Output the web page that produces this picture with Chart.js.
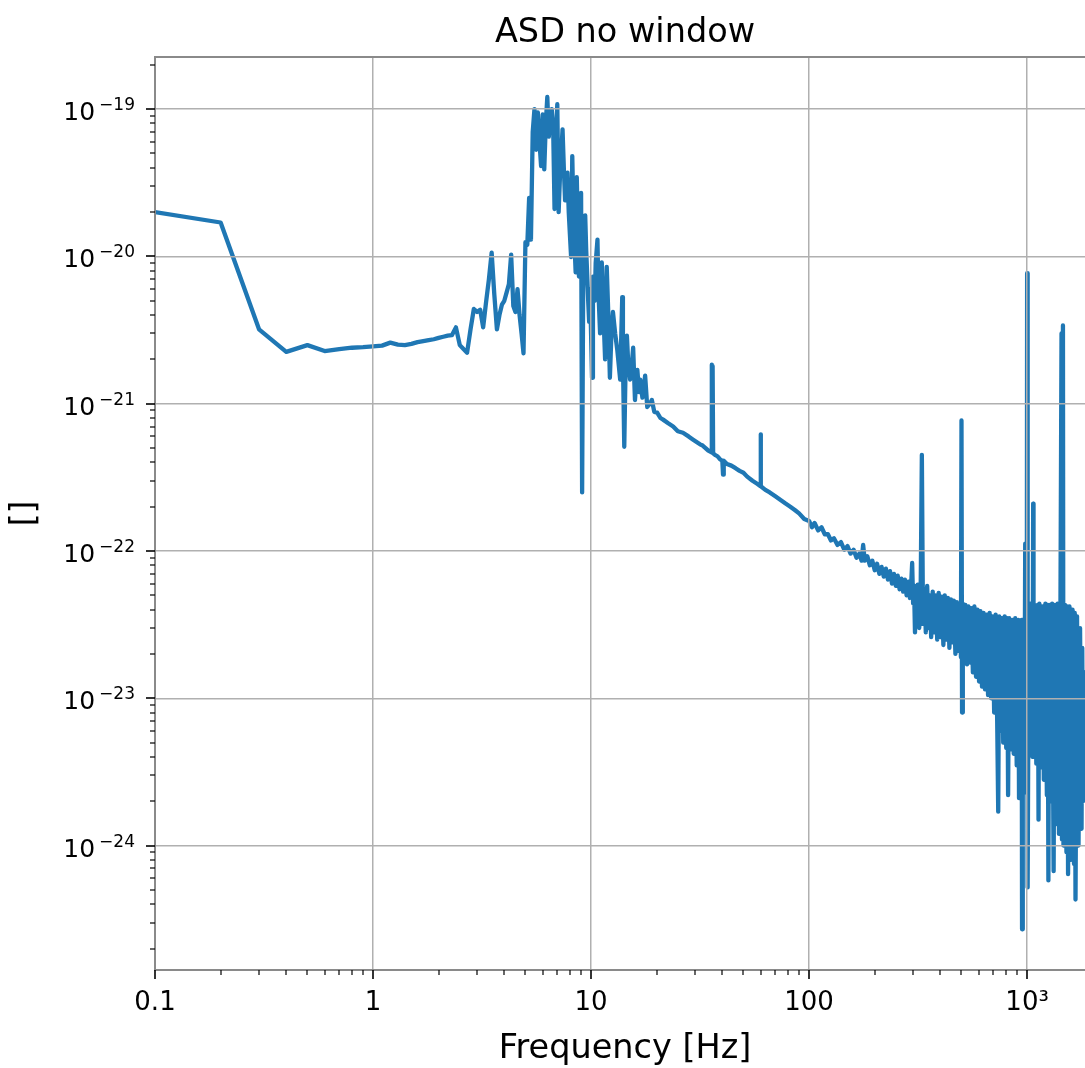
<!DOCTYPE html>
<html lang="en">
<head>
<meta charset="UTF-8" />
<title>ASD no window</title>
<script src="https://cdn.jsdelivr.net/npm/chart.js@4.4.0/dist/chart.umd.min.js"></script>
<style>
    html, body { margin: 0; padding: 0; background: #fff; overflow: hidden; }
    canvas { display: block; }
</style>
</head>
<body>
<!-- the axes run a little past the right edge of the window, like the cropped original -->
<canvas id="canvas" width="1095" height="1068"></canvas>
<script>
// split by frequency range (Hz, strain/rtHz)
var lowFreq = [0.1, 0.2, 0.3, 0.4, 0.5, 0.6, 0.7, 0.8, 0.9, 1.0, 1.1, 1.2, 1.3, 1.4, 1.5, 1.6, 1.7, 1.8, 1.9, 2.0,
    2.1, 2.2, 2.3, 2.4, 2.5, 2.6, 2.7, 2.8, 2.9, 3.0, 3.1, 3.2, 3.3, 3.4, 3.5, 3.6, 3.7, 3.8, 3.9, 4.0,
    4.1, 4.2, 4.3, 4.4, 4.5, 4.6, 4.7, 4.8, 4.9];
var lowAsd = [2.0e-20, 1.7e-20, 3.2e-21, 2.25e-21, 2.5e-21, 2.28e-21, 2.35e-21, 2.4e-21, 2.42e-21, 2.45e-21,
    2.48e-21, 2.6e-21, 2.52e-21, 2.5e-21, 2.55e-21, 2.62e-21, 2.66e-21, 2.7e-21, 2.74e-21, 2.8e-21,
    2.85e-21, 2.9e-21, 2.92e-21, 3.3e-21, 2.5e-21, 2.35e-21, 2.22e-21, 3.2e-21, 4.4e-21, 4.2e-21,
    4.35e-21, 3.3e-21, 4.9e-21, 7.0e-21, 1.06e-20, 5.5e-21, 3.2e-21, 4.0e-21, 4.7e-21, 5.0e-21,
    5.7e-21, 6.5e-21, 1.03e-20, 4.6e-21, 4.2e-21, 6.0e-21, 4.0e-21, 3.0e-21, 2.2e-21];

var peakFreq = [5.0, 5.1, 5.2, 5.3, 5.4, 5.5, 5.6, 5.7, 5.8, 5.9, 6.0, 6.1, 6.2, 6.3, 6.4, 6.5, 6.6, 6.7, 6.8, 6.9,
    7.0, 7.1, 7.2, 7.3, 7.4, 7.5, 7.6, 7.7, 7.8, 7.9, 8.0, 8.1, 8.2, 8.3, 8.4, 8.5, 8.6, 8.7, 8.8, 8.9,
    9.0, 9.1, 9.2, 9.3, 9.4, 9.5, 9.6, 9.7, 9.8, 9.9, 10.0,
    10.1, 10.2, 10.4, 10.5, 10.7, 10.8, 11.0, 11.2, 11.4, 11.6, 11.8, 12.0, 12.2, 12.4, 12.6, 12.9,
    13.2, 13.6, 13.9, 14.0, 14.2, 14.4, 14.6, 14.8, 15.1, 15.4, 15.6, 15.9, 16.1, 16.3, 16.6, 16.8,
    17.2, 17.7, 18.1, 18.6, 19.0, 19.5, 20.1, 20.8, 21.4, 22.5, 23.8, 25.0, 26.4, 28.0, 29.4, 31.6];
var peakAsd = [1.25e-20, 1.2e-20, 2.5e-20, 1.3e-20, 7.0e-20, 1.0e-19, 5.3e-20, 9.5e-20, 6.0e-20, 4.1e-20,
    9.2e-20, 3.9e-20, 8.0e-20, 1.21e-19, 6.5e-20, 8.5e-20, 1.0e-19, 7.7e-20, 2.1e-20, 6.0e-20,
    1.08e-19, 2.0e-20, 3.5e-20, 5.0e-20, 7.3e-20, 4.0e-20, 2.4e-20, 3.0e-20, 3.7e-20, 2.0e-20,
    1.4e-20, 9.9e-21, 4.8e-20, 2.0e-20, 1.2e-20, 7.8e-21, 3.45e-20, 1.5e-20, 7.3e-21, 1.4e-20,
    2.7e-20, 2.5e-22, 6.0e-21, 1.2e-20, 1.9e-20, 1.1e-20, 7.5e-21, 5.0e-21, 3.6e-21, 6.0e-21, 3.0e-21,
    1.5e-21, 7.3e-21, 5.0e-21, 9.0e-21, 1.3e-20, 6.0e-21, 3.0e-21, 9.1e-21, 4.0e-21, 2.0e-21, 8.5e-21,
    4.0e-21, 1.5e-21, 3.0e-21, 4.2e-21, 3.0e-21, 2.3e-21, 1.46e-21, 5.3e-21, 2.0e-21, 5.1e-22, 1.8e-21,
    2.9e-21, 1.9e-21, 1.46e-21, 1.9e-21, 2.4e-21, 1.06e-21, 1.4e-21, 1.7e-21, 1.2e-21, 1.46e-21,
    1.1e-21, 1.55e-21, 9.5e-22, 1.0e-21, 1.06e-21, 8.8e-22, 8.7e-22, 8.0e-22, 7.8e-22, 7.4e-22,
    7.0e-22, 6.5e-22, 6.35e-22, 6.0e-22, 5.7e-22, 5.3e-22];

var slopeFreq = [32.5, 33.5, 34.5, 35.5, 35.8, 35.9, 36.1, 36.3, 37, 38, 39, 40, 40.3, 40.6, 42, 44, 46, 48, 50, 52,
    55, 58, 59.9, 60, 60.1, 63, 66, 70, 74, 78, 82, 86, 90, 95, 100, 103, 106, 110, 114, 118, 122, 126, 130,
    135, 140, 145, 150, 155, 160, 165, 170, 174, 177, 180, 185, 190, 195, 200, 205, 210, 215, 220, 225, 230,
    235, 240, 245, 250, 255, 260, 265, 270, 275, 280, 285, 290, 294, 297, 300, 303, 306, 309, 312];
var slopeAsd = [5.2e-22, 5.0e-22, 4.8e-22, 4.7e-22, 1.84e-21, 4.65e-22, 1.8e-21, 4.6e-22,
    4.5e-22, 4.4e-22, 4.2e-22, 4.1e-22, 3.3e-22, 4.1e-22,
    3.9e-22, 3.8e-22, 3.65e-22, 3.5e-22, 3.4e-22, 3.2e-22, 3.0e-22, 2.85e-22,
    2.75e-22, 6.2e-22, 2.75e-22,
    2.6e-22, 2.5e-22, 2.35e-22, 2.22e-22, 2.1e-22, 2.0e-22, 1.9e-22, 1.8e-22, 1.65e-22,
    1.6e-22, 1.45e-22, 1.55e-22, 1.38e-22, 1.45e-22, 1.3e-22, 1.3e-22, 1.18e-22, 1.22e-22,
    1.1e-22, 1.15e-22, 1.02e-22, 1.08e-22, 9.6e-23, 1.02e-22, 9.0e-23, 9.6e-23, 8.6e-23, 1.1e-22,
    8.6e-23, 9.2e-23, 8.0e-23, 8.6e-23, 7.4e-23, 8.2e-23, 7.0e-23, 7.8e-23, 6.7e-23, 7.6e-23, 6.4e-23,
    7.3e-23, 6.0e-23, 7.0e-23, 5.8e-23, 6.8e-23, 5.5e-23, 6.5e-23, 5.3e-23, 6.4e-23, 5.0e-23,
    6.2e-23, 4.8e-23, 6.0e-23, 8.3e-23, 4.4e-23, 5.8e-23, 2.8e-23, 5.6e-23, 3.8e-23];

var bandFreq = [315, 320, 325, 329, 333, 338, 343, 348, 353, 358, 363, 369, 375, 381, 387, 393, 400, 406, 413, 419,
    426, 433, 440, 447, 454, 461, 469, 476, 484, 492, 497, 500, 503, 507, 513, 521, 530, 538, 547, 555,
    564, 573, 583, 592, 602, 611, 621, 631, 641, 652, 662, 673, 684, 695, 706, 717, 729, 737, 745, 754,
    764, 777, 789, 802, 810, 818, 828, 841, 855, 868, 882, 896, 911, 918, 925, 940, 944, 948, 955, 971,
    980, 986, 997, 1000, 1003, 1008, 1018, 1026, 1034, 1042, 1051, 1058, 1066, 1070, 1085, 1102, 1120, 1128, 1138, 1156,
    1175, 1193, 1213, 1232, 1242, 1252, 1262, 1282, 1302, 1323, 1340, 1360, 1380, 1400, 1422, 1438, 1445, 1460, 1468, 1492,
    1515, 1528, 1541, 1564, 1590, 1615, 1641, 1654, 1667, 1694, 1721, 1749, 1777, 1790, 1805, 1834, 1864, 1894, 1924,
    1960, 2000, 2048];
var bandAsd = [5.9e-23, 3.0e-23, 5.6e-23, 4.5e-22, 3.2e-23, 5.5e-23, 2.8e-23, 5.8e-23, 3.0e-23, 5.0e-23,
    2.6e-23, 5.3e-23, 2.8e-23, 5.0e-23, 2.5e-23, 5.2e-23, 2.6e-23, 4.9e-23, 2.3e-23, 5.0e-23,
    2.5e-23, 4.8e-23, 2.2e-23, 4.7e-23, 2.4e-23, 4.6e-23, 2.0e-23, 4.5e-23, 2.1e-23, 4.4e-23,
    1.9e-23, 7.7e-22, 8.0e-24, 4.4e-23, 1.9e-23, 4.3e-23, 1.7e-23, 4.2e-23, 1.75e-23, 4.1e-23,
    1.5e-23, 4.2e-23, 1.4e-23, 4.0e-23, 1.3e-23, 3.9e-23, 1.2e-23, 3.8e-23, 1.15e-23, 3.7e-23,
    1.05e-23, 3.8e-23, 1.0e-23, 3.6e-23, 8.0e-24, 3.7e-23, 7.0e-24, 1.7e-24, 3.6e-23, 6.0e-24,
    3.5e-23, 5.0e-24, 3.6e-23, 4.6e-24, 3.5e-23, 2.2e-24, 3.5e-23, 4.5e-24, 3.4e-23, 4.2e-24,
    3.5e-23, 3.5e-24, 3.4e-23, 2.1e-24, 3.3e-23, 2.6e-24, 3.4e-23, 2.7e-25, 3.4e-23, 2.3e-24,
    1.12e-22, 3.0e-24, 3.5e-23, 7.7e-21, 3.0e-23, 5.2e-25, 4.3e-23, 4.5e-24, 4.4e-23, 4.2e-24,
    4.4e-23, 4.0e-24, 2.1e-22, 4.0e-24, 4.3e-23, 3.6e-24, 4.3e-23, 1.5e-24, 4.4e-23, 3.4e-24,
    4.2e-23, 2.8e-24, 4.4e-23, 2.2e-24, 4.3e-23, 5.8e-25, 4.3e-23, 2.0e-24, 4.4e-23, 6.7e-25,
    4.3e-23, 1.4e-24, 4.4e-23, 1.2e-24, 4.3e-23, 3.0e-21, 1.1e-24, 3.4e-21, 1.0e-24, 4.3e-23,
    9.0e-25, 4.2e-23, 6.4e-25, 4.2e-23, 8.0e-25, 4.0e-23, 7.5e-25, 3.8e-23, 4.3e-25, 3.6e-23,
    1.0e-24, 3.0e-23, 1.3e-24, 2.2e-23, 2.0e-24, 1.5e-23, 3.4e-24, 1.4e-23, 4.0e-24,
    1.2e-23, 5.0e-24, 8.0e-24];

var xTickValues = [0.1, 1, 10, 100, 1000];
var xTickLabels = ['0.1', '1', '10', '100', '10³'];
var yTickValues = [1e-24, 1e-23, 1e-22, 1e-21, 1e-20, 1e-19];
var yTickExponents = ['\u221224', '\u221223', '\u221222', '\u221221', '\u221220', '\u221219'];

var xMin = 0.1, xMax = 2048;
var yMin = 1.43e-25, yMax = 2.26e-19;

var freq = lowFreq.concat(peakFreq, slopeFreq, bandFreq);
var asd = lowAsd.concat(peakAsd, slopeAsd, bandAsd);
var points = freq.map(function (f, i) { return { x: f, y: asd[i] }; });

function labelFor(v, values, labels) {
    for (var i = 0; i < values.length; i++) {
        if (Math.abs(Math.log10(v) - Math.log10(values[i])) < 1e-6) return labels[i];
    }
    return '';
}
function isDecade(v) {
    if (!v) return false;
    var e = Math.log10(v);
    return Math.abs(e - Math.round(e)) < 1e-6;
}
function gridFor(lo, hi) {
    return function (c) {
        if (!c.tick) return 'rgba(0,0,0,0)';
        var v = c.tick.value;
        return isDecade(v) && v >= lo * 0.999 && v <= hi * 1.001 ? gridColor : 'rgba(0,0,0,0)';
    };
}

var spineColor = '#8a8a8a';
var gridColor = '#b0b0b0';
var fontFamily = "'DejaVu Sans', sans-serif";

// top spine, matplotlib style tick marks and the 10^n labels of the y axis
var spineAndTicks = {
    id: 'spineAndTicks',
    afterDraw: function (chart) {
        var ctx = chart.ctx, a = chart.chartArea;
        var xs = chart.scales.x, ys = chart.scales.y;
        ctx.save();
        ctx.strokeStyle = spineColor;
        ctx.lineWidth = 2;
        ctx.beginPath();
        ctx.moveTo(a.left, a.top);
        ctx.lineTo(a.right, a.top);
        ctx.stroke();

        ctx.strokeStyle = '#000';
        for (var e = -2; e <= 4; e++) {
            for (var m = 1; m <= 9; m++) {
                var v = m * Math.pow(10, e);
                if (v < xMin * 0.999 || v > xMax) continue;
                var px = Math.round(xs.getPixelForValue(v));
                ctx.lineWidth = m === 1 ? 1.6 : 1.2;
                ctx.beginPath();
                ctx.moveTo(px, a.bottom);
                ctx.lineTo(px, a.bottom + (m === 1 ? 9 : 5));
                ctx.stroke();
            }
        }
        for (var e2 = -26; e2 <= -18; e2++) {
            for (var m2 = 1; m2 <= 9; m2++) {
                var v2 = m2 * Math.pow(10, e2);
                if (v2 < yMin || v2 > yMax) continue;
                var py = Math.round(ys.getPixelForValue(v2));
                ctx.lineWidth = m2 === 1 ? 1.6 : 1.2;
                ctx.beginPath();
                ctx.moveTo(a.left, py);
                ctx.lineTo(a.left - (m2 === 1 ? 9 : 5), py);
                ctx.stroke();
            }
        }

        ctx.fillStyle = '#000';
        ctx.textAlign = 'right';
        ctx.textBaseline = 'alphabetic';
        var right = a.left - 20;
        yTickValues.forEach(function (val, i) {
            var ty = ys.getPixelForValue(val);
            ctx.font = '17px ' + fontFamily;
            var ew = ctx.measureText(yTickExponents[i]).width;
            ctx.fillText(yTickExponents[i], right, ty + 1);
            ctx.font = '25px ' + fontFamily;
            ctx.fillText('10', right - ew - 4, ty + 11);
        });
        ctx.restore();
    }
};

Chart.defaults.font.family = fontFamily;
Chart.defaults.color = '#000';

var config = {
    type: 'line',
    data: {
        datasets: [{
            label: 'ASD',
            data: points,
            borderColor: '#1f77b4',
            borderWidth: 4.3,
            borderJoinStyle: 'round',
            borderCapStyle: 'round',
            pointRadius: 0,
            fill: false,
            tension: 0
        }]
    },
    options: {
        responsive: false,
        animation: false,
        devicePixelRatio: 1,
        layout: { padding: 0 },
        plugins: {
            legend: { display: false },
            tooltip: { enabled: false }
        },
        scales: {
            x: {
                type: 'logarithmic',
                position: 'bottom',
                bounds: 'data',
                min: xMin,
                max: xMax,
                afterFit: function (s) { s.height = 98; s.paddingRight = 0; s.paddingLeft = 0; },
                grid: {
                    z: 1,
                    drawTicks: false,
                    lineWidth: 1.5,
                    color: gridFor(xMin, xMax)
                },
                border: { z: 1, color: spineColor, width: 2 },
                ticks: {
                    autoSkip: false,
                    maxRotation: 0,
                    padding: 18,
                    font: { size: 26 },
                    callback: function (v) { return labelFor(v, xTickValues, xTickLabels); }
                },
                title: {
                    display: true,
                    text: 'Frequency [Hz]',
                    font: { size: 33.5, lineHeight: 1.1 },
                    padding: { top: 0, bottom: 0 }
                }
            },
            x2: {
                type: 'logarithmic',
                position: 'top',
                bounds: 'data',
                min: xMin,
                max: xMax,
                afterFit: function (s) { s.height = 57; s.paddingRight = 0; s.paddingLeft = 0; },
                grid: { display: false },
                border: { display: false },
                ticks: { display: false },
                title: {
                    display: true,
                    text: 'ASD no window',
                    font: { size: 33.5 },
                    padding: { top: 13, bottom: 0 }
                }
            },
            y: {
                type: 'logarithmic',
                bounds: 'data',
                min: yMin,
                max: yMax,
                afterFit: function (s) { s.width = 155; },
                grid: {
                    z: 1,
                    drawTicks: false,
                    lineWidth: 1.5,
                    color: gridFor(yMin, yMax)
                },
                border: { z: 1, color: spineColor, width: 2 },
                ticks: { display: false },
                title: {
                    display: true,
                    text: '[]',
                    font: { size: 33 },
                    padding: { top: 6, bottom: 0 }
                }
            }
        }
    },
    plugins: [spineAndTicks]
};

var chart = new Chart(document.getElementById('canvas').getContext('2d'), config);
</script>
</body>
</html>
